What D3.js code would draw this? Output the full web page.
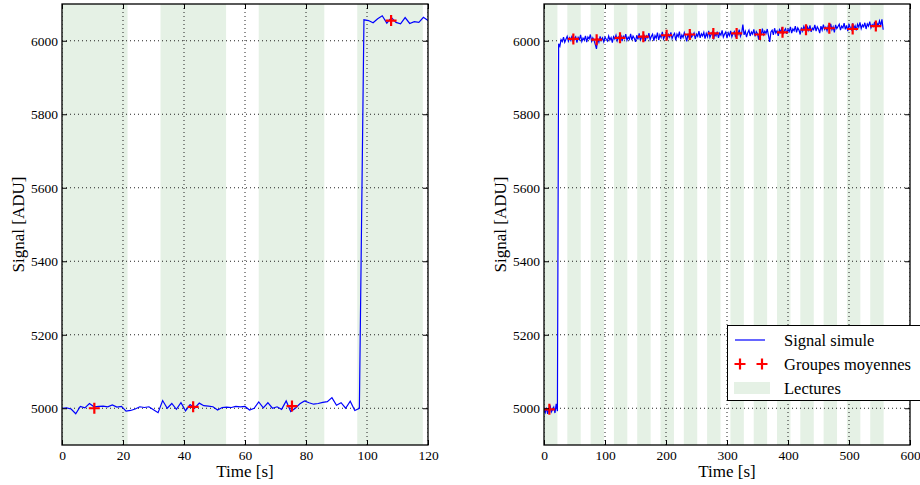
<!DOCTYPE html>
<html><head><meta charset="utf-8">
<script src="https://cdn.jsdelivr.net/npm/d3@7/dist/d3.min.js"></script>
<style>
body{margin:0;background:#fff;}
svg text{font-family:"Liberation Serif","Tinos","Times New Roman",Times,"DejaVu Serif","Noto Serif",serif !important;fill:#000;}
</style></head>
<body><svg id="c" width="920" height="485"></svg>
<script>
// ---------- data ----------
const leftStep = 1.5;
const leftSignal = [5000,5001,4998,4985,5005,5001,5013,5004,5005,5006,
5004,5009,5003,5005,4992,4994,4998,5004,5002,5004,
4996,4988,5021,5000,5013,4997,5015,4993,5010,5000,
5014,5007,5006,5004,4995,5002,5003,5002,5005,5004,
5005,4995,5000,5017,5001,5015,5000,5004,4997,5020,
4991,5000,5012,5020,5015,5011,5013,5016,5018,5029,
5008,5015,5000,5019,4994,5000,
6057,6055,6049,6060,6068,6048,6063,6050,6046,6063,6047,6052,6050,6064,6055];
const leftMeanTime = [10.6, 43, 75.4, 107.9];
const leftMeanValue = [5000, 5004, 5006, 6055];
const leftReadStart = [0, 32.3, 64.5, 96.8];
const leftReadEnd = [21.5, 53.8, 86.0, 118.3];

const rightStep = 2;
const rightSignal = [4995,4988,5002,4985,4998,5008,4990,4996,5003,4987,5012,4992,
5992,5985,6003,5998,6010,5996,6004,6012,5999,6008,
6001,6014,5997,6006,6011,5995,6009,6003,6016,5998,
6007,6002,6013,5996,6010,6005,6017,5999,6008,6001,
5990,5978,6006,5996,6012,6001,6008,5997,6010,6004,
5999,6013,6002,6009,5995,6011,6005,6015,6000,6010,
6003,6016,5999,6012,6006,6018,6001,6010,6004,6019,
6002,6013,6007,5997,6015,6004,6020,6001,6011,6006,
6017,5999,6013,6008,6021,6003,6012,6018,6000,6014,
6007,6022,6002,6016,6009,6024,6005,6013,6019,6004,
6017,6010,6023,6006,6015,6020,6001,6018,6011,6025,
6004,6016,6009,6022,6012,5998,6019,6007,6024,6010,
6015,6021,6005,6018,6012,6026,6008,6019,6013,6023,
6006,6020,6011,6027,6009,6017,6024,6004,6019,6013,
6025,6008,6021,6015,6028,6010,6018,6024,6007,6022,
6014,6027,6011,6020,6025,6009,6023,6017,6030,6012,
6021,6044,6016,6026,6010,6022,6029,6013,6024,6018,
6031,6012,6025,6019,6003,6028,6015,6033,6017,6026,
6020,6032,6014,5997,6024,6029,6016,6034,6021,6027,
6013,6030,6023,6036,6018,6028,6033,6019,6031,6025,
6038,6021,6032,6027,6040,6023,6035,6029,6017,6036,
6026,6039,6031,6022,6037,6028,6042,6024,6034,6030,
6043,6026,6038,6032,6021,6040,6029,6044,6031,6037,
6027,6041,6034,6046,6030,6038,6023,6043,6033,6039,
6045,6029,6040,6035,6048,6031,6042,6026,6044,6036,
6030,6047,6034,6041,6028,6045,6037,6050,6033,6043,
6038,6049,6032,6046,6040,6052,6035,6044,6039,6051,
6036,6047,6042,6054,6041,6058,6030];
const rightMeanTime = [8.8, 48.1, 86.3, 124.6, 162.8, 201, 239, 277.6, 315.8, 354, 391, 429.5, 467.7, 506, 544];
const rightMeanValue = [4997, 6005, 6003, 6008, 6011, 6015, 6017, 6020, 6020, 6017, 6023, 6030, 6034, 6032, 6040];
const rightReadStart = [0, 38.2, 76.4, 114.6, 152.8, 191.0, 229.2, 267.4, 305.6, 343.8, 382.0, 420.2, 458.4, 496.6, 534.8];
const rightReadEnd = [22, 60.2, 98.4, 136.6, 174.8, 213.0, 251.2, 289.4, 327.6, 365.8, 404.0, 442.2, 480.4, 518.6, 556.8];

const yTicks = [5000, 5200, 5400, 5600, 5800, 6000];
const leftXTicks = [0, 20, 40, 60, 80, 100, 120];
const rightXTicks = [0, 100, 200, 300, 400, 500, 600];
const legendLabels = ["Signal simule", "Groupes moyennes", "Lectures"];

// ---------- drawing ----------
const FONT = '"Liberation Serif","Tinos","Times New Roman",Times,"DejaVu Serif","Noto Serif",serif';
const svg = d3.select("#c");
const BAND = "#e5f1e5";

function panel(opt){
  const x = d3.scaleLinear().domain(opt.xDomain).range([opt.x0, opt.x1]);
  const y = d3.scaleLinear().domain([4900, 6100]).range([445, 4]);
  const g = svg.append("g");
  const clipId = "clip" + opt.x0;
  svg.append("clipPath").attr("id", clipId).append("rect")
    .attr("x", opt.x0).attr("y", 4).attr("width", opt.x1 - opt.x0).attr("height", 441);
  const inner = g.append("g").attr("clip-path", `url(#${clipId})`);
  inner.selectAll("rect.band").data(opt.bandStart).join("rect")
    .attr("x", d => x(d)).attr("y", 4)
    .attr("width", (d, i) => x(opt.bandEnd[i]) - x(d)).attr("height", 441)
    .attr("fill", BAND);
  inner.selectAll("line.gx").data(opt.xTicks).join("line")
    .attr("x1", d => x(d)).attr("x2", d => x(d)).attr("y1", 4).attr("y2", 445)
    .attr("stroke", "#222").attr("stroke-width", 1).attr("stroke-dasharray", "1,3");
  inner.selectAll("line.gy").data(yTicks).join("line")
    .attr("y1", d => y(d)).attr("y2", d => y(d)).attr("x1", opt.x0).attr("x2", opt.x1)
    .attr("stroke", "#222").attr("stroke-width", 1).attr("stroke-dasharray", "1,3");
  const line = d3.line().x((d, i) => x(i * opt.step)).y(d => y(d));
  inner.append("path").datum(opt.signal).attr("d", line)
    .attr("fill", "none").attr("stroke", "#0000ff").attr("stroke-width", 1.2);
  opt.meanTime.forEach((t, i) => {
    const cx = x(t), cy = y(opt.meanValue[i]);
    inner.append("path").attr("d", `M${cx-5.5},${cy}H${cx+5.5}M${cx},${cy-5.5}V${cy+5.5}`)
      .attr("stroke", "#ff0000").attr("stroke-width", 2.2).attr("fill", "none");
  });
  const fmt = d3.format("d");
  const ax = d3.axisBottom(x).tickValues(opt.xTicks).tickFormat(fmt).tickSizeInner(-5).tickSizeOuter(0).tickPadding(5);
  const axT = d3.axisTop(x).tickValues(opt.xTicks).tickSizeInner(-5).tickSizeOuter(0).tickFormat("");
  const ay = d3.axisLeft(y).tickValues(yTicks).tickFormat(fmt).tickSizeInner(-5).tickSizeOuter(0).tickPadding(4);
  const ayR = d3.axisRight(y).tickValues(yTicks).tickSizeInner(-5).tickSizeOuter(0).tickFormat("");
  const styleAxis = s => { s.attr("font-family", FONT).attr("font-size", 13.5);
    s.select(".domain").remove(); s.selectAll("line").attr("stroke","#000");
    s.selectAll("text").attr("font-family", FONT).attr("font-size", 13.5).attr("fill","#000"); };
  g.append("g").attr("transform", "translate(0,445)").call(ax).call(styleAxis);
  g.append("g").attr("transform", "translate(0,4)").call(axT).call(styleAxis);
  g.append("g").attr("transform", `translate(${opt.x0},0)`).call(ay).call(styleAxis);
  g.append("g").attr("transform", `translate(${opt.x1},0)`).call(ayR).call(styleAxis);
  g.append("rect").attr("x", opt.x0).attr("y", 4).attr("width", opt.x1 - opt.x0).attr("height", 441)
    .attr("fill", "none").attr("stroke", "#000").attr("stroke-width", 1.3);
  g.append("text").attr("x", (opt.x0 + opt.x1) / 2).attr("y", 477).attr("text-anchor", "middle")
    .attr("font-family", FONT).attr("font-size", 17).text("Time [s]");
  g.append("text").attr("transform", `translate(${opt.x0 - 38},${(4+445)/2}) rotate(-90)`)
    .attr("text-anchor", "middle").attr("font-family", FONT).attr("font-size", 17).text("Signal [ADU]");
}

panel({x0: 62, x1: 428, xDomain: [0, 120], xTicks: leftXTicks, step: leftStep, signal: leftSignal,
  meanTime: leftMeanTime, meanValue: leftMeanValue, bandStart: leftReadStart, bandEnd: leftReadEnd});
panel({x0: 544, x1: 910, xDomain: [0, 600], xTicks: rightXTicks, step: rightStep, signal: rightSignal,
  meanTime: rightMeanTime, meanValue: rightMeanValue, bandStart: rightReadStart, bandEnd: rightReadEnd});

const lg = svg.append("g");
lg.append("rect").attr("x", 727.5).attr("y", 325.5).attr("width", 200).attr("height", 75)
  .attr("fill", "#fff").attr("stroke", "#000").attr("stroke-width", 1);
const rowY = [340, 364, 388];
lg.append("line").attr("x1", 735).attr("x2", 765).attr("y1", rowY[0]).attr("y2", rowY[0])
  .attr("stroke", "#0000ff").attr("stroke-width", 1.2);
[740, 762].forEach(cx => lg.append("path")
  .attr("d", `M${cx-5.5},${rowY[1]}H${cx+5.5}M${cx},${rowY[1]-5.5}V${rowY[1]+5.5}`)
  .attr("stroke", "#ff0000").attr("stroke-width", 2.2));
lg.append("rect").attr("x", 734).attr("y", rowY[2] - 6).attr("width", 36).attr("height", 12).attr("fill", BAND);
legendLabels.forEach((t, i) => lg.append("text").attr("x", 784).attr("y", rowY[i] + 5.5)
  .attr("font-family", FONT).attr("font-size", 16.5).text(t));
</script></body></html>
